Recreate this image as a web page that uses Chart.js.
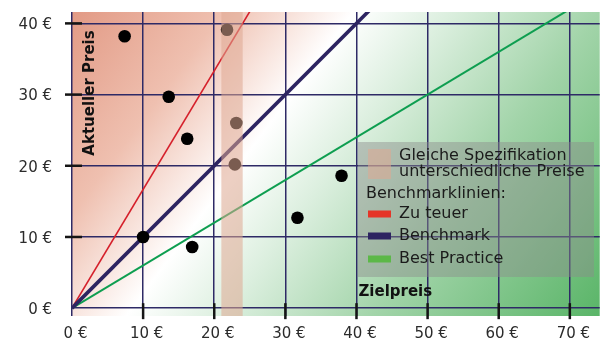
<!DOCTYPE html>
<html>
<head>
<meta charset="utf-8">
<title>Preisvergleich</title>
<script src="https://cdn.jsdelivr.net/npm/chart.js@4.4.1/dist/chart.umd.min.js"></script>
<style>
  html, body { margin: 0; padding: 0; background: #ffffff; }
  #wrap { width: 606px; height: 342px; position: relative; }
</style>
</head>
<body>
<div id="wrap"><canvas id="chart" width="606" height="342"></canvas></div>
<script>
// Achsen
const xTicks = [0, 10, 20, 30, 40, 50, 60, 70];
const yTicks = [0, 10, 20, 30, 40];
const xRange = [0, 74.2];
const yRange = [-1.1, 41.6];

// Artikel: Zielpreis (x) gegen aktuellen Preis (y)
const artikel = [
  { x: 7.4,  y: 38.2 },
  { x: 13.6, y: 29.7 },
  { x: 16.2, y: 23.8 },
  { x: 10.0, y: 10.0 },
  { x: 16.9, y: 8.6 },
  { x: 31.7, y: 12.7 },
  { x: 37.9, y: 18.6 }
];

// Artikel mit gleicher Spezifikation, aber unterschiedlichen Preisen
const gleicheSpezifikation = [
  { x: 21.8, y: 39.1 },
  { x: 23.1, y: 26.0 },
  { x: 22.9, y: 20.2 }
];
const spezifikationsBereich = [21, 24];

// Benchmarklinien
const zuTeuer      = [{ x: 0, y: 0 }, { x: 30, y: 50 }];
const benchmark    = [{ x: 0, y: 0 }, { x: 50, y: 50 }];
const bestPractice = [{ x: 0, y: 0 }, { x: 80, y: 48 }];

const linienNamen  = ['Zu teuer', 'Benchmark', 'Best Practice'];
const linienFarben = ['#d5202b', '#2d2461', '#0e9e50'];
const legendFarben = ['#e53528', '#2d2461', '#5cb848'];

const FONT = '"DejaVu Sans", "Noto Sans", sans-serif';
const bandFill = 'rgba(222,167,145,0.55)';

const decor = {
  id: 'decor',
  beforeDraw(chart) {
    const { ctx, chartArea: a } = chart;
    // Verlauf von teuer (oben links) nach günstig (unten rechts)
    const w = a.right - a.left, h = a.bottom - a.top;
    const ux = 0.801, uy = 0.598;
    const len = w * ux + h * uy;
    const g = ctx.createLinearGradient(a.left, a.top, a.left + ux * len, a.top + uy * len);
    g.addColorStop(0.00, '#e29a85');
    g.addColorStop(0.20, '#efc0b0');
    g.addColorStop(0.373, '#ffffff');
    g.addColorStop(0.50, '#dcefdf');
    g.addColorStop(0.70, '#a2d4a9');
    g.addColorStop(1.00, '#5ab568');
    ctx.save();
    ctx.fillStyle = g;
    ctx.fillRect(a.left, a.top, w, h);
    ctx.restore();
  },
  afterDatasetsDraw(chart) {
    const { ctx, chartArea: a, scales: { x } } = chart;
    const x0 = x.getPixelForValue(spezifikationsBereich[0]);
    const x1 = x.getPixelForValue(spezifikationsBereich[1]);
    ctx.save();
    ctx.fillStyle = bandFill;
    ctx.fillRect(x0, a.top, x1 - x0, a.bottom - a.top);
    ctx.restore();
  },
  afterDraw(chart) {
    const { ctx, chartArea: a, scales: { x, y } } = chart;
    ctx.save();

    // Achsenmarkierungen
    ctx.strokeStyle = '#151515';
    ctx.lineWidth = 2.5;
    const y0 = y.getPixelForValue(0);
    xTicks.filter(v => v !== 0).forEach(v => {
      const px = x.getPixelForValue(v);
      ctx.beginPath(); ctx.moveTo(px, y0 - 5); ctx.lineTo(px, y0 + 11); ctx.stroke();
    });
    yTicks.filter(v => v !== 0).forEach(v => {
      const py = y.getPixelForValue(v);
      ctx.beginPath(); ctx.moveTo(a.left - 7, py); ctx.lineTo(a.left + 10, py); ctx.stroke();
    });

    // Achsentitel
    ctx.fillStyle = '#111111';
    ctx.font = 'bold 15px ' + FONT;
    ctx.textBaseline = 'middle';
    ctx.textAlign = 'center';
    ctx.save();
    ctx.translate(a.left + 18, a.top + 81);
    ctx.rotate(-Math.PI / 2);
    ctx.fillText('Aktueller Preis', 0, 0);
    ctx.restore();
    ctx.textAlign = 'left';
    ctx.fillText('Zielpreis', x.getPixelForValue(40) + 2, a.bottom - 24);

    // Legende
    const L = { x: a.left + 286, y: a.top + 130, w: 236, h: 135 };
    ctx.fillStyle = 'rgba(140,140,140,0.45)';
    ctx.fillRect(L.x, L.y, L.w, L.h);
    ctx.fillStyle = bandFill;
    ctx.fillRect(L.x + 10, L.y + 7, 23, 30);

    ctx.fillStyle = '#1b1b1b';
    ctx.font = '16px ' + FONT;
    ctx.fillText('Gleiche Spezifikation', L.x + 41, L.y + 14);
    ctx.fillText('unterschiedliche Preise', L.x + 41, L.y + 30);
    ctx.fillText('Benchmarklinien:', L.x + 8, L.y + 52);
    const rows = [72, 94, 117];
    linienNamen.forEach((name, i) => {
      ctx.fillStyle = legendFarben[i];
      ctx.fillRect(L.x + 10, L.y + rows[i] - 3.5, 23, 7);
      ctx.fillStyle = '#1b1b1b';
      ctx.fillText(name, L.x + 41, L.y + rows[i]);
    });
    ctx.restore();
  }
};

const dot = { backgroundColor: '#000000', borderWidth: 0, pointRadius: 6.3, pointHoverRadius: 6.3 };
const line = (data, i, w) => ({
  label: linienNamen[i], data, showLine: true, fill: false,
  borderColor: linienFarben[i], borderWidth: w, pointRadius: 0, pointHoverRadius: 0
});
const noPadding = s => { s.paddingTop = 0; s.paddingBottom = 0; s.paddingLeft = 0; s.paddingRight = 0; };

new Chart(document.getElementById('chart'), {
  type: 'scatter',
  data: {
    datasets: [
      Object.assign({ label: 'Artikel', data: artikel }, dot),
      Object.assign({ label: 'Gleiche Spezifikation', data: gleicheSpezifikation }, dot),
      line(benchmark, 1, 3.6),
      line(zuTeuer, 0, 1.6),
      line(bestPractice, 2, 2)
    ]
  },
  options: {
    responsive: false,
    animation: false,
    devicePixelRatio: 1,
    layout: { padding: { top: 12, right: 3, left: 0, bottom: 0 } },
    plugins: { legend: { display: false }, tooltip: { enabled: false } },
    scales: {
      x: {
        type: 'linear', min: xRange[0], max: xRange[1],
        afterBuildTicks: s => { s.ticks = xTicks.map(v => ({ value: v })); },
        afterFit: s => { s.height = 26; noPadding(s); },
        grid: { color: '#2e2a66', lineWidth: 1.5, drawTicks: false },
        border: { display: false },
        ticks: {
          padding: 9, labelOffset: 3.5, color: '#2b2b2b', autoSkip: false, maxRotation: 0,
          font: { family: FONT, size: 15 },
          callback: v => v + ' €'
        }
      },
      y: {
        type: 'linear', min: yRange[0], max: yRange[1],
        afterBuildTicks: s => { s.ticks = yTicks.map(v => ({ value: v })); },
        afterFit: s => { s.width = 72; noPadding(s); },
        grid: { color: '#2e2a66', lineWidth: 1.5, drawTicks: false },
        border: { display: false },
        ticks: {
          padding: 20, labelOffset: 2, color: '#2b2b2b',
          font: { family: FONT, size: 15 },
          callback: v => v + ' €'
        }
      }
    }
  },
  plugins: [decor]
});
</script>
</body>
</html>
